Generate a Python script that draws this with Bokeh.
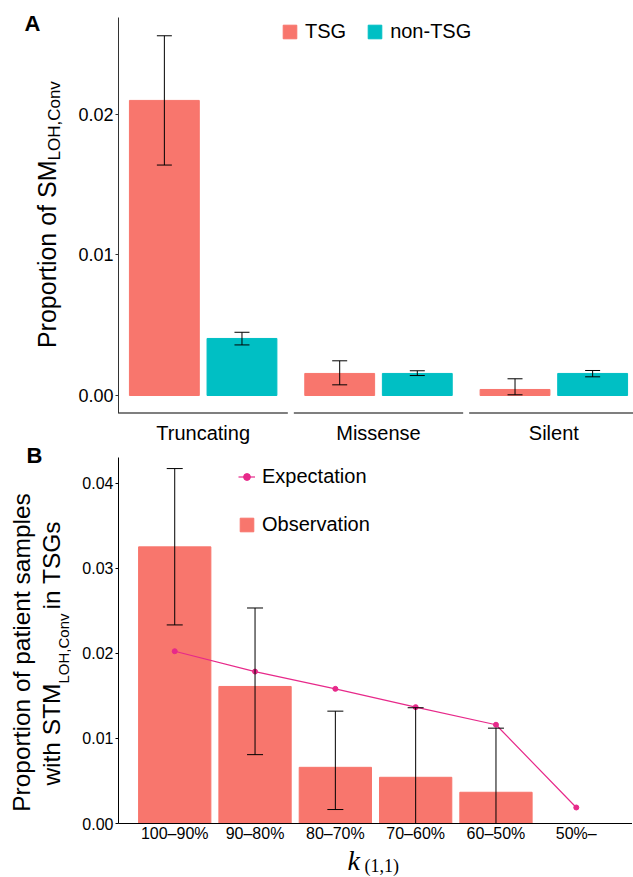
import math
from bokeh.plotting import figure
from bokeh.models import (Range1d, FactorRange, ColumnDataSource, Whisker, TeeHead,
                          Legend, LegendItem, FixedTicker, NumeralTickFormatter)
from bokeh.core.properties import value
from bokeh.layouts import column, row
from bokeh.embed import file_html
from bokeh.resources import INLINE

# ---------------- data: panel A ----------------
mut_types = ["Truncating", "Missense", "Silent"]
tsg_prop = [0.0210, 0.00157, 0.00043]
tsg_low = [0.0164, 0.00076, 0.00005]
tsg_high = [0.0256, 0.00247, 0.00119]
non_tsg_prop = [0.00406, 0.00157, 0.00157]
non_tsg_low = [0.0036, 0.00142, 0.00133]
non_tsg_high = [0.0045, 0.00176, 0.00178]
a_ticks = [0.0, 0.01, 0.02]

# ---------------- data: panel B ----------------
k_labels = ["100–90%", "90–80%", "80–70%", "70–60%", "60–50%", "50%–"]
obs_labels = ["100–90%", "90–80%", "80–70%", "70–60%", "60–50%"]
observed = [0.0325, 0.0161, 0.0066, 0.00543, 0.00367]
observed_low = [0.02333, 0.00809, 0.00164, 0.0, 0.0]
observed_high = [0.0417, 0.02532, 0.0132, 0.0136, 0.0112]
expected = [0.02024, 0.01785, 0.01582, 0.01367, 0.01160, 0.00188]
b_ticks = [0.0, 0.01, 0.02, 0.03, 0.04]

SANS = "Liberation Sans"
SERIF = "Liberation Serif"
RED = "#F8766D"
CYAN = "#00BFC4"
PINK = "#E7298A"

LEFT_W = 71
A_H = 447
B_H = 398
K_H = 31
MID = 0.35   # distance from baseline to the middle of the text, in em


def txt(p, x, y, s, size, angle=0.0, align="left", font=SANS, style="normal"):
    p.text(x=[x], y=[y], text=[s], angle=angle, text_align=value(align),
           text_baseline=value("middle"),
           text_font=value(font), text_font_size=value(f"{size}px"),
           text_font_style=value(style), text_color="black")


def text_fig(w, h):
    p = figure(width=w, height=h, x_range=Range1d(0, w), y_range=Range1d(h, 0),
               min_border=0, x_axis_location=None, y_axis_location=None,
               output_backend="svg", toolbar_location=None)
    p.grid.visible = False
    p.outline_line_color = None
    return p


def whisker(p, base, lo, hi, src, cap):
    w = Whisker(base=base, lower=lo, upper=hi, source=src, line_color="black", line_width=1,
                lower_head=TeeHead(size=cap, line_color="black", line_width=1),
                upper_head=TeeHead(size=cap, line_color="black", line_width=1),
                level="overlay")
    p.add_layout(w)


# ---------------- panel A: three facets on one numeric axis ----------------
FACET = 1.2
GAP = 0.0425
DODGE = 0.275
BAR_W = 0.495
facet_start = [round(i * (FACET + GAP), 4) for i in range(len(mut_types))]
facet_end = [round(s + FACET, 4) for s in facet_start]
facet_mid = [round(s + FACET / 2, 4) for s in facet_start]
yr_a = Range1d(-0.00128, 0.0269)

pa = figure(x_range=Range1d(0, facet_end[-1]), y_range=yr_a, frame_width=520, frame_height=396,
            min_border_left=41, min_border_right=0, min_border_top=17, min_border_bottom=34,
            output_backend="svg", toolbar_location=None)
src_a = ColumnDataSource(dict(
    x_tsg=[m - DODGE for m in facet_mid], x_non=[m + DODGE for m in facet_mid],
    tsg=tsg_prop, tsg_lo=tsg_low, tsg_hi=tsg_high,
    non=non_tsg_prop, non_lo=non_tsg_low, non_hi=non_tsg_high))
r1 = pa.vbar(x="x_tsg", top="tsg", width=BAR_W, source=src_a, fill_color=RED, line_color=RED)
r2 = pa.vbar(x="x_non", top="non", width=BAR_W, source=src_a, fill_color=CYAN, line_color=CYAN)
whisker(pa, "x_tsg", "tsg_lo", "tsg_hi", src_a, 15)
whisker(pa, "x_non", "non_lo", "non_hi", src_a, 15)
# broken baseline, one piece per facet
pa.segment(x0=facet_start, x1=facet_end, y0=[yr_a.start] * 3, y1=[yr_a.start] * 3,
           line_color="black", line_width=2)
pa.xgrid.visible = False
pa.ygrid.visible = False
pa.outline_line_color = None
xa = pa.xaxis[0]
xa.ticker = FixedTicker(ticks=facet_mid)
xa.major_label_overrides = {m: t for m, t in zip(facet_mid, mut_types)}
xa.axis_line_color = None
xa.major_tick_line_color = None
xa.major_tick_out = 0
xa.major_tick_in = 0
xa.minor_tick_line_color = None
xa.major_label_text_font = SANS
xa.major_label_text_font_size = "20px"
xa.major_label_text_color = "black"
xa.major_label_standoff = 8
ax = pa.yaxis[0]
ax.ticker = FixedTicker(ticks=a_ticks)
ax.formatter = NumeralTickFormatter(format="0.00")
ax.axis_line_color = "#333333"
ax.major_tick_line_color = "#333333"
ax.major_tick_out = 3
ax.major_tick_in = 0
ax.minor_tick_line_color = None
ax.major_label_standoff = 2
ax.major_label_text_font = SANS
ax.major_label_text_font_size = "18px"
ax.major_label_text_color = "black"
leg = Legend(items=[LegendItem(label="TSG", renderers=[r1]),
                    LegendItem(label="non-TSG", renderers=[r2])],
             location=(167, 370), orientation="horizontal", spacing=20,
             glyph_width=17, glyph_height=17, label_height=22, label_standoff=7,
             label_text_font=SANS, label_text_font_size="20px", label_text_color="black",
             padding=0, margin=0, border_line_alpha=0, background_fill_alpha=0)
pa.add_layout(leg)

# ---------------- panel B ----------------
pb = figure(x_range=FactorRange(factors=k_labels, range_padding=0.2, range_padding_units="absolute"),
            y_range=Range1d(0, 0.043), frame_width=514, frame_height=366,
            min_border_left=47, min_border_right=0, min_border_top=10, min_border_bottom=22,
            output_backend="svg", toolbar_location=None)
src_obs = ColumnDataSource(dict(k=obs_labels, obs=observed, lo=observed_low, hi=observed_high))
src_exp = ColumnDataSource(dict(k=k_labels, exp=expected))
rb = pb.vbar(x="k", top="obs", width=0.9, source=src_obs, fill_color=RED, line_color=RED)
whisker(pb, "k", "lo", "hi", src_obs, 16)
rl = pb.line(x="k", y="exp", source=src_exp, line_color=PINK, line_width=1.2)
rs = pb.scatter(x="k", y="exp", source=src_exp, size=5, fill_color=PINK, line_color=PINK)
pb.xgrid.visible = False
pb.ygrid.visible = False
pb.outline_line_color = None
bx = pb.xaxis[0]
bx.axis_line_color = "black"
bx.major_tick_line_color = None
bx.major_tick_out = 0
bx.major_tick_in = 0
bx.major_label_text_font = SANS
bx.major_label_text_font_size = "16px"
bx.major_label_text_color = "black"
bx.major_label_standoff = 1
ay = pb.yaxis[0]
ay.ticker = FixedTicker(ticks=b_ticks)
ay.formatter = NumeralTickFormatter(format="0.00")
ay.axis_line_color = "black"
ay.major_tick_line_color = "black"
ay.major_tick_out = 3
ay.major_tick_in = 0
ay.minor_tick_line_color = None
ay.major_label_standoff = 2
ay.major_label_text_font = SANS
ay.major_label_text_font_size = "16px"
ay.major_label_text_color = "black"

legb = Legend(items=[LegendItem(label="Expectation", renderers=[rl, rs]),
                     LegendItem(label="Observation", renderers=[rb])],
              location=(120, 287), orientation="vertical", spacing=25,
              glyph_width=17, glyph_height=17, label_height=22, label_standoff=7,
              label_text_font=SANS, label_text_font_size="20px", label_text_color="black",
              padding=0, margin=0, border_line_alpha=0, background_fill_alpha=0)
pb.add_layout(legb)

# ---------------- text columns (titles, panel letters) ----------------
V = math.pi / 2
left = text_fig(LEFT_W, A_H + B_H)
txt(left, 24, 31 - MID * 22, "A", 22, style="bold")
txt(left, 55 - MID * 25, 160, "Proportion of SM", 25, angle=V, align="right")
txt(left, 60 - MID * 17, 160, "LOH,Conv", 17, angle=V, align="left")
txt(left, 26, 463 - MID * 22, "B", 22, style="bold")
txt(left, 30 - MID * 24.5, 652, "Proportion of patient samples", 24.5, angle=V, align="center")
txt(left, 60 - MID * 24.5, 683, "with STM", 24.5, angle=V, align="right")
txt(left, 68 - MID * 15, 683, "LOH,Conv", 15, angle=V, align="left")
txt(left, 60 - MID * 24.5, 609, "in TSGs", 24.5, angle=V, align="left")

# bottom strip starts at page y 845
bottom = text_fig(LEFT_W + 561, K_H)
txt(bottom, 347, 25 - 0.34 * 28, "k", 28, font=SERIF, style="italic")
txt(bottom, 364, 27 - 0.34 * 18, "(1,1)", 18, font=SERIF)

layout = column(row(left, column(pa, pb)), bottom)
open("out.html", "w").write(file_html(layout, INLINE))
